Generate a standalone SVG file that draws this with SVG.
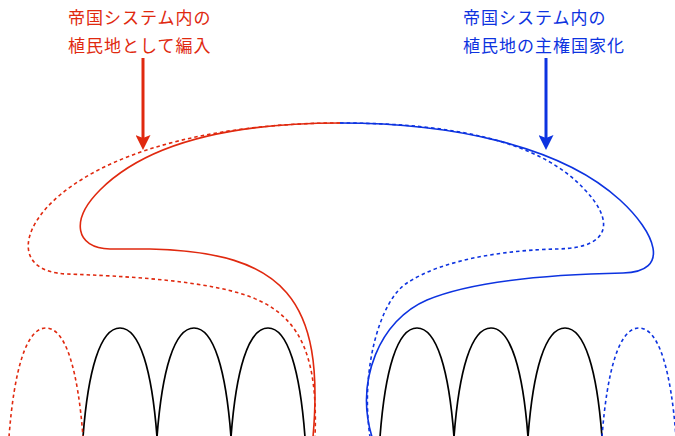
<svg xmlns="http://www.w3.org/2000/svg" width="675" height="436" viewBox="0 0 675 436">
<style>
.red{stroke:#e0290f;fill:none;stroke-width:1.6}
.blue{stroke:#0d33e0;fill:none;stroke-width:1.6}
.dot{stroke-dasharray:3.5 3}
.arch{stroke:#000;fill:none;stroke-width:1.7}
.t{font-family:"Noto Sans CJK JP","Noto Sans",sans-serif;font-size:17px;letter-spacing:1px}
</style>
<defs>
<marker id="ahR" markerWidth="5" markerHeight="5" refX="1" refY="2.5" orient="auto" markerUnits="strokeWidth" viewBox="0 0 5 5">
<path d="M0,0 L5,2.5 L0,5 L1,2.5 Z" fill="#e0290f"/>
</marker>
<marker id="ahB" markerWidth="5" markerHeight="5" refX="1" refY="2.5" orient="auto" markerUnits="strokeWidth" viewBox="0 0 5 5">
<path d="M0,0 L5,2.5 L0,5 L1,2.5 Z" fill="#0d33e0"/>
</marker>
</defs>
<g id="label-left">
<text class="t" x="68" y="24" fill="#e0290f">帝国システム内の</text>
<text class="t" x="68" y="52" fill="#e0290f">植民地として編入</text>
</g>
<g id="label-right">
<text class="t" x="463" y="24" fill="#0d33e0">帝国システム内の</text>
<text class="t" x="463" y="52" fill="#0d33e0">植民地の主権国家化</text>
</g>
<g id="arches">
<path class="arch" d="M83,437 c5,-66 17,-109 37,-109 c20,0 32,43 37,109 c5,-66 17,-109 37,-109 c20,0 32,43 37,109 c5,-66 17,-109 37,-109 c20,0 32,43 37,109"/>
<path class="arch" d="M380,437 c5,-66 17,-109 37,-109 c20,0 32,43 37,109 c5,-66 17,-109 37,-109 c20,0 32,43 37,109 c5,-66 17,-109 37,-109 c20,0 32,43 37,109"/>
<path class="red dot" d="M9,437 c5,-66 17,-109 37,-109 c20,0 32,43 37,109"/>
<path class="blue dot" d="M602,437 c5,-66 17,-109 37,-109 c20,0 32,43 37,109"/>
</g>
<g id="connectors">
<path class="red" d="M340,123 C240,123 150,140 100,190 C70,220 75,248 110,249 L150,249 C285,252 325,300 313,437"/>
<path class="red dot" d="M340,123 C230,123 120,145 60,195 C18,230 15,272 67,274 C120,276 215,280 258,300 C302,320 318,360 315,437"/>
<path class="blue" d="M340,123 C450,123 560,145 620,200 C655,232 672,272 623,273 C573,274 480,278 427,300 C380,320 355,380 372,437"/>
<path class="blue dot" d="M340,123 C450,123 540,140 585,190 C612,218 615,248 557,249 C510,250 445,258 407,283 C380,300 360,370 370,437"/>
<line x1="143" y1="58" x2="143" y2="138" stroke="#e0290f" stroke-width="3" marker-end="url(#ahR)"/>
<line x1="546" y1="58" x2="546" y2="138" stroke="#0d33e0" stroke-width="3" marker-end="url(#ahB)"/>
</g>
</svg>
